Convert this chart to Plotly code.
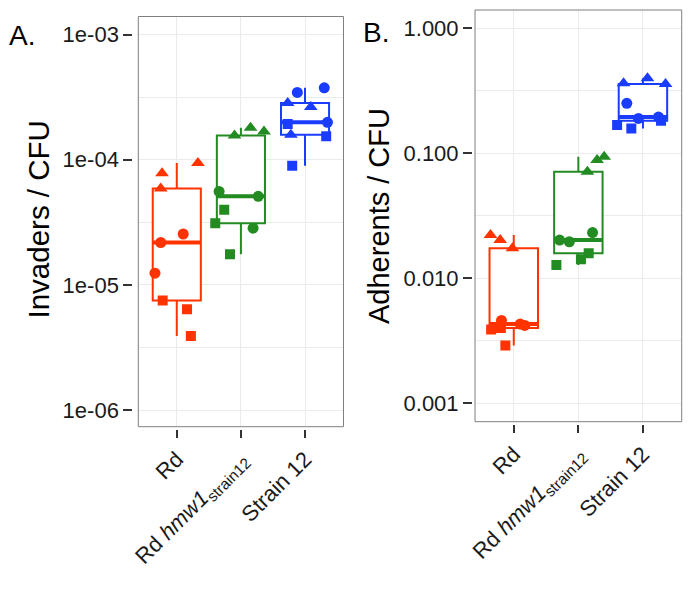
import numpy as np
import plotly.graph_objects as go

# categories and tick labels
groups = ["Rd", "Rd hmw1 strain12", "Strain 12"]
x_ticktext = ["Rd", "Rd <i>hmw1</i><sub>strain12</sub>", "Strain 12"]
colors = ["#FF3300", "#228B22", "#1A3CFF"]
# point order inside each group: 3 triangles, 3 circles, 3 squares
symbols = ["triangle-up"] * 3 + ["circle"] * 3 + ["square"] * 3
sizes = [12] * 3 + [11] * 3 + [10] * 3

# A. invaders / CFU
inv_rd = [7.8e-5, 5.9e-5, 9.4e-5, 2.55e-5, 2.18e-5, 1.24e-5, 7.5e-6, 6.4e-6, 3.9e-6]
inv_hmw1 = [1.56e-4, 1.8e-4, 1.68e-4, 5.58e-5, 5.1e-5, 2.84e-5, 3.98e-5, 3.1e-5, 1.76e-5]
inv_s12 = [2.84e-4, 2.64e-4, 1.58e-4, 3.45e-4, 3.75e-4, 1.99e-4, 1.93e-4, 1.54e-4, 8.95e-5]
inv_rd_jit = [-0.23, -0.25, 0.33, 0.10, -0.25, -0.34, -0.22, 0.16, 0.22]
inv_hmw1_jit = [-0.10, 0.15, 0.36, -0.34, 0.27, 0.19, -0.26, -0.40, -0.17]
inv_s12_jit = [-0.27, 0.09, -0.22, -0.12, 0.30, 0.35, -0.27, 0.33, -0.20]

# B. adherents / CFU
adh_rd = [0.0222, 0.0202, 0.0174, 0.0046, 0.0043, 0.0042, 0.0039, 0.0040, 0.0029]
adh_hmw1 = [0.0713, 0.0884, 0.094, 0.0202, 0.0196, 0.0232, 0.01277, 0.0142, 0.01585]
adh_s12 = [0.363, 0.398, 0.358, 0.251, 0.195, 0.19, 0.168, 0.158, 0.182]
adh_rd_jit = [-0.36, -0.21, -0.02, -0.19, 0.10, 0.17, -0.35, -0.20, -0.13]
adh_hmw1_jit = [0.14, 0.29, 0.40, -0.29, -0.14, 0.22, -0.34, 0.04, 0.16]
adh_s12_jit = [-0.30, 0.07, 0.35, -0.25, 0.24, -0.07, -0.40, -0.18, 0.28]

inv_ticks = [1e-6, 1e-5, 1e-4, 1e-3]
inv_ticktext = ["1e-06", "1e-05", "1e-04", "1e-03"]
adh_ticks = [1e-3, 1e-2, 1e-1, 1]
adh_ticktext = ["0.001", "0.010", "0.100", "1.000"]

FONT = "Liberation Sans, Arial, sans-serif"
GRID = "#EBEBEB"
BOX_W = 0.75

# the page body has an 8px margin, so the figure is 8px smaller each way
OFF = 8
W, H = 700 - OFF, 599 - OFF


def fx(px):
    return (px - OFF) / W


def fy(py):
    return 1 - (py - OFF) / H


fig = go.Figure()


def add_panel(xa, ya, values, jitters):
    for i, (vals, jit) in enumerate(zip(values, jitters)):
        c = colors[i]
        fig.add_trace(go.Box(
            x=[i + 1] * len(vals), y=vals, xaxis=xa, yaxis=ya,
            boxpoints=False, width=BOX_W, whiskerwidth=0,
            quartilemethod="inclusive",
            line=dict(color=c, width=2), fillcolor="white",
            showlegend=False, hoverinfo="skip"))
        med = float(np.median(vals))
        fig.add_trace(go.Scatter(
            x=[i + 1 - BOX_W / 2, i + 1 + BOX_W / 2], y=[med, med],
            xaxis=xa, yaxis=ya, mode="lines",
            line=dict(color=c, width=4), showlegend=False, hoverinfo="skip"))
        fig.add_trace(go.Scatter(
            x=[i + 1 + j for j in jit], y=vals, xaxis=xa, yaxis=ya,
            mode="markers",
            marker=dict(color=c, symbol=symbols, size=sizes, opacity=1, line=dict(width=0)),
            showlegend=False))


add_panel("x", "y", [inv_rd, inv_hmw1, inv_s12], [inv_rd_jit, inv_hmw1_jit, inv_s12_jit])
add_panel("x2", "y2", [adh_rd, adh_hmw1, adh_s12], [adh_rd_jit, adh_hmw1_jit, adh_s12_jit])

# panel frames in screen pixels
xdomA, ydomA = [fx(138.3), fx(343.5)], [fy(426.7), fy(16.5)]
xdomB, ydomB = [fx(475), fx(681.7)], [fy(421.7), fy(10)]


def xaxis(domain, ydom):
    return dict(
        domain=domain, anchor="free", position=ydom[0] - 2 / H, automargin=False,
        range=[0.4, 3.6], tickmode="array", tickvals=[1, 2, 3], ticktext=x_ticktext,
        tickangle=-45, ticks="outside", ticklen=8, tickwidth=2, tickcolor="#333333",
        tickfont=dict(family=FONT, size=22, color="#1a1a1a"),
        showgrid=True, gridcolor=GRID, gridwidth=1, zeroline=False, showline=False)


def yaxis(domain, xdom, rng, tv, tt, gap):
    lo, hi = int(np.floor(rng[0])), int(np.ceil(rng[1]))
    minor_vals = [10 ** (k + 0.5) for k in range(lo - 1, hi + 1)]
    return dict(
        domain=domain, anchor="free", position=xdom[0] - gap / W, automargin=False,
        type="log", range=rng, tickmode="array", tickvals=tv, ticktext=tt,
        ticks="outside", ticklen=9, tickwidth=2, tickcolor="#333333",
        tickfont=dict(family=FONT, size=22, color="#1a1a1a"),
        showgrid=True, gridcolor=GRID, gridwidth=1, zeroline=False, showline=False,
        minor=dict(tickvals=minor_vals, showgrid=True, gridcolor=GRID, gridwidth=1, ticks=""))


fig.update_layout(
    width=W, height=H,
    margin=dict(l=0, r=0, t=0, b=0, autoexpand=False),
    paper_bgcolor="white", plot_bgcolor="white",
    boxmode="overlay",
    font=dict(family=FONT, color="black"),
    xaxis=xaxis(xdomA, ydomA),
    yaxis=yaxis(ydomA, xdomA, [-6.133, -2.856], inv_ticks, inv_ticktext, 6),
    xaxis2=xaxis(xdomB, ydomB),
    yaxis2=yaxis(ydomB, xdomB, [-3.147, 0.146], adh_ticks, adh_ticktext, 3),
)

# panel borders
for xr, yr in [("x domain", "y domain"), ("x2 domain", "y2 domain")]:
    fig.add_shape(type="rect", xref=xr, yref=yr, x0=0, x1=1, y0=0, y1=1,
                  line=dict(color="#7F7F7F", width=1), layer="above")

# y titles and panel letters
labels = [("Invaders / CFU", 37.5, 220, -90, 29.5),
          ("Adherents / CFU", 379, 216, -90, 29),
          ("A.", 22, 36, 0, 28),
          ("B.", 376, 33, 0, 28)]
for text, px, py, ang, size in labels:
    fig.add_annotation(text=text, x=fx(px), y=fy(py), xref="paper", yref="paper",
                       xanchor="center", yanchor="middle", textangle=ang, showarrow=False,
                       font=dict(size=size, family=FONT, color="black"))

fig.write_html("out.html")
